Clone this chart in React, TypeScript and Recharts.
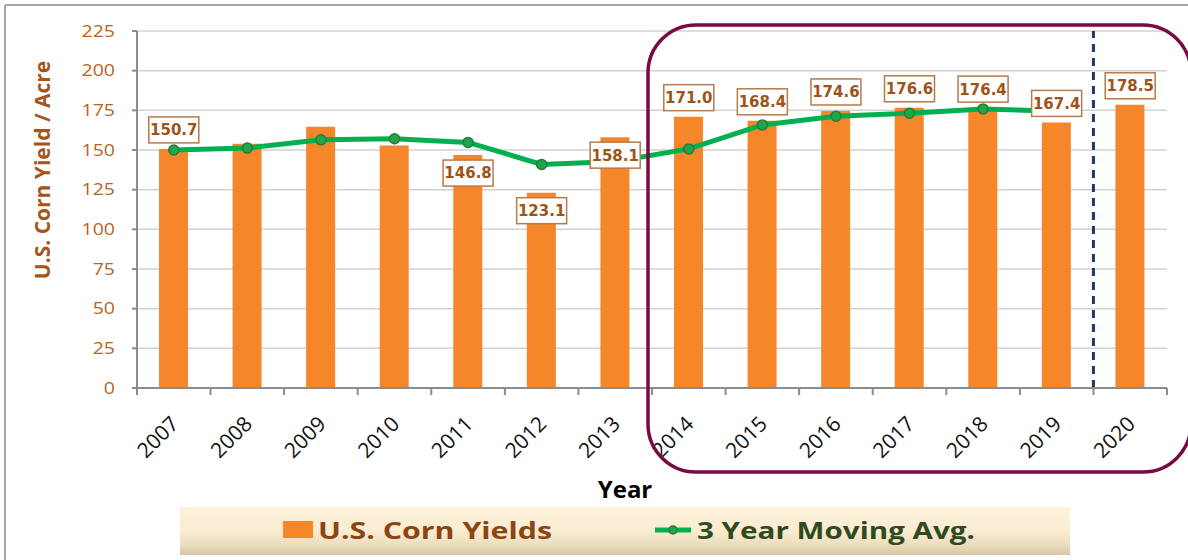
import React from "react";
import {
  ComposedChart,
  Bar,
  Line,
  XAxis,
  YAxis,
  CartesianGrid,
  ReferenceLine,
  LabelList,
  Legend,
} from "recharts";

const years = [
  "2007", "2008", "2009", "2010", "2011", "2012", "2013",
  "2014", "2015", "2016", "2017", "2018", "2019", "2020",
];
const cornYields = [
  150.7, 153.9, 164.7, 152.8, 146.8, 123.1, 158.1,
  171.0, 168.4, 174.6, 176.6, 176.4, 167.4, 178.5,
];
const movingAvg = [
  150.0, 151.2, 156.4, 157.1, 154.8, 140.9, 142.7,
  150.7, 165.8, 171.3, 173.2, 175.9, 174.5, null,
];
const labeledYears = [
  "2007", "2011", "2012", "2013", "2014", "2015",
  "2016", "2017", "2018", "2019", "2020",
];
const labelsBelowBar = ["2011", "2012", "2013"];
const yTicks = [0, 25, 50, 75, 100, 125, 150, 175, 200, 225];

const data = years.map((year, i) => ({
  year,
  yield: cornYields[i],
  avg: movingAvg[i],
}));

const BROWN = "#a3561c";
const AXIS = "#8c8c8c";
// the source picture is stretched sideways, so text is widened to match
const STRETCH = 1.22;

const ValueBox = (props: any) => {
  const { x, y, value, index } = props;
  const year = years[index];
  if (!labeledYears.includes(year) || value == null) return null;
  const below = labelsBelowBar.includes(year);
  const cy = below ? y + 18 : y - 19;
  const w = 50;
  const h = 26;
  return (
    <g>
      <rect
        x={x - w / 2}
        y={cy - h / 2}
        width={w}
        height={h}
        fill="#ffffff"
        stroke="#b87a48"
        strokeWidth={1.5}
      />
      <text
        x={x}
        y={cy}
        dy="0.36em"
        textAnchor="middle"
        fontFamily="DejaVu Sans"
        fontWeight="bold"
        fontSize={15}
        fill="#9c5418"
      >
        {Number(value).toFixed(1)}
      </text>
    </g>
  );
};

const YearTick = (props: any) => {
  const { x, y, payload, index } = props;
  const half = payload && payload.offset > 0 ? payload.offset : 36.75;
  const last = index === years.length - 1;
  return (
    <g>
      <line x1={x - half} y1={y} x2={x - half} y2={y + 7} stroke={AXIS} strokeWidth={2} />
      {last && (
        <line x1={x + half} y1={y} x2={x + half} y2={y + 7} stroke={AXIS} strokeWidth={2} />
      )}
      <text
        x={0}
        y={0}
        dy="0.35em"
        textAnchor="end"
        transform={`translate(${x + 1}, ${y + 32}) rotate(-45)`}
        fontFamily="Open Sans"
        fontSize={21}
        fill="#111111"
      >
        {payload.value}
      </text>
    </g>
  );
};

const ValueTick = (props: any) => {
  const { x, y, payload } = props;
  return (
    <text
      x={0}
      y={0}
      dy="0.35em"
      textAnchor="end"
      transform={`translate(${x}, ${y}) scale(${STRETCH}, 1)`}
      fontFamily="Open Sans"
      fontSize={16}
      fill="#b5651d"
    >
      {payload.value}
    </text>
  );
};

const YTitle = () => (
  <text
    transform="translate(50, 170) rotate(-90)"
    textAnchor="middle"
    fontFamily="Open Sans"
    fontWeight="bold"
    fontSize={21}
    fill={BROWN}
  >
    U.S. Corn Yield / Acre
  </text>
);

const LegendBox = () => (
  <svg width={890} height={48} style={{ display: "block" }}>
    <defs>
      <linearGradient id="legendBg" x1="0" y1="0" x2="0" y2="1">
        <stop offset="0%" stopColor="#fdf1da" />
        <stop offset="50%" stopColor="#faecd2" />
        <stop offset="80%" stopColor="#eadcbc" />
        <stop offset="100%" stopColor="#d6c6a4" />
      </linearGradient>
    </defs>
    <rect x={0} y={0} width={890} height={48} fill="url(#legendBg)" />
    <rect x={103} y={14} width={30} height={17} fill="#f5862a" />
    <text
      x={138}
      y={32}
      textLength={234}
      lengthAdjust="spacingAndGlyphs"
      fontFamily="Open Sans"
      fontWeight="bold"
      fontSize={24}
      fill="#8b4513"
    >
      U.S. Corn Yields
    </text>
    <line x1={475} y1={23} x2={511} y2={23} stroke="#00b050" strokeWidth={5} />
    <circle cx={493} cy={23} r={4} fill="#1ea64a" stroke="#2a7a3a" strokeWidth={1.5} />
    <text
      x={517}
      y={32}
      textLength={278}
      lengthAdjust="spacingAndGlyphs"
      fontFamily="Open Sans"
      fontWeight="bold"
      fontSize={24}
      fill="#2f4a1e"
    >
      3 Year Moving Avg.
    </text>
  </svg>
);

export default function App() {
  return (
    <div style={{ position: "absolute", left: 0, top: 0, width: 1188, height: 560, background: "#fff" }}>
      <ComposedChart
        width={1188}
        height={560}
        data={data}
        margin={{ top: 31, right: 21, left: 0, bottom: 62 }}
      >
        <CartesianGrid vertical={false} stroke="#d2d2d2" strokeWidth={1.5} />
        <XAxis
          dataKey="year"
          height={110}
          tickSize={0}
          tickMargin={0}
          tickLine={false}
          axisLine={{ stroke: AXIS, strokeWidth: 2 }}
          tick={<YearTick />}
          interval={0}
          label={{
            value: "Year",
            position: "insideBottom",
            offset: 0,
            dx: -27,
            fill: "#000",
            fontFamily: "Open Sans",
            fontWeight: "bold",
            fontSize: 24,
          }}
        />
        <YAxis
          width={137}
          domain={[0, 225]}
          ticks={yTicks}
          interval={0}
          tickSize={5}
          tickMargin={17}
          axisLine={{ stroke: AXIS, strokeWidth: 2 }}
          tickLine={{ stroke: AXIS, strokeWidth: 2 }}
          tick={<ValueTick />}
          label={<YTitle />}
        />
        <Legend
          layout="horizontal"
          verticalAlign="middle"
          align="center"
          wrapperStyle={{ left: 180, top: 507, width: 890, height: 48 }}
          content={<LegendBox />}
        />
        <Bar
          dataKey="yield"
          name="U.S. Corn Yields"
          fill="#f5862a"
          barSize={29}
          isAnimationActive={false}
        />
        <Line
          dataKey="avg"
          name="3 Year Moving Avg."
          stroke="#00b050"
          strokeWidth={5}
          dot={{ r: 5, fill: "#1ea64a", stroke: "#2a7a3a", strokeWidth: 1.5 }}
          activeDot={false}
          isAnimationActive={false}
        />
        <Line
          dataKey="yield"
          stroke="none"
          dot={false}
          activeDot={false}
          legendType="none"
          isAnimationActive={false}
        >
          <LabelList dataKey="yield" content={<ValueBox />} />
        </Line>
        <ReferenceLine
          x="2020"
          position="start"
          stroke="#1f3864"
          strokeWidth={3}
          strokeDasharray="8 6"
        />
      </ComposedChart>
      <svg
        width={1188}
        height={560}
        style={{ position: "absolute", left: 0, top: 0, pointerEvents: "none" }}
      >
        <line x1={5} y1={5} x2={1188} y2={5} stroke="#a6a6a6" strokeWidth={2} />
        <line x1={5} y1={5} x2={5} y2={560} stroke="#a6a6a6" strokeWidth={2} />
        <rect
          x={648}
          y={25}
          width={543}
          height={447}
          rx={48}
          ry={48}
          fill="none"
          stroke="#7a0a42"
          strokeWidth={3.5}
        />
      </svg>
    </div>
  );
}
